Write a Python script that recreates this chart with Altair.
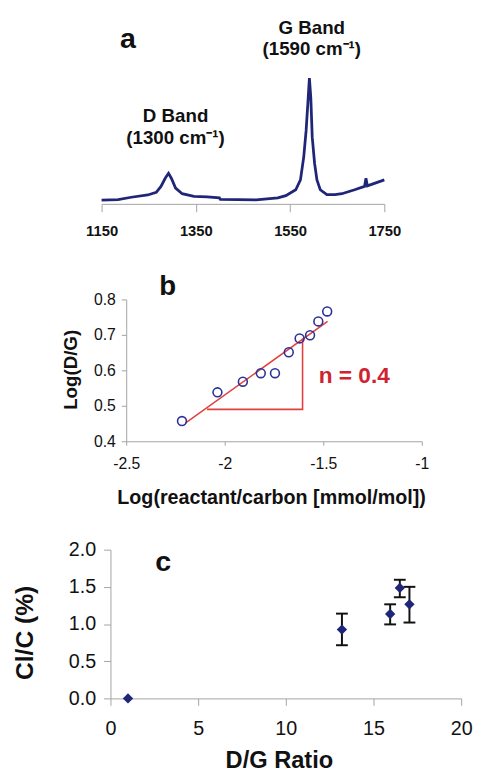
import altair as alt
import pandas as pd

# ---------------- data ----------------
# (a) Raman spectrum (arbitrary intensity units)
wavenumber = [1150, 1185, 1213, 1248, 1266, 1276, 1285, 1292, 1298, 1307, 1321, 1346,
              1374, 1400, 1402, 1440, 1478, 1524, 1541, 1562, 1572, 1579, 1584, 1588,
              1591, 1594, 1597, 1602, 1607, 1614, 1628, 1645, 1660, 1687, 1708, 1711,
              1714, 1726, 1750]
intensity = [1.7, 2.3, 4.7, 7.0, 9.7, 15.7, 24.0, 29.0, 24.0, 14.0, 8.3, 5.7,
             5.0, 4.0, 2.5, 2.3, 2.0, 4.0, 6.3, 12.3, 22.3, 45.7, 72.3, 102.3,
             125.7, 105.7, 65.7, 39.0, 22.3, 12.3, 7.3, 7.3, 8.3, 12.3, 15.7, 24.0,
             16.3, 18.3, 22.3]
a_ticks = [1150, 1350, 1550, 1750]
a_labels = ["G Band", "(1590 cm\u207b\u00b9)", "D Band", "(1300 cm\u207b\u00b9)"]
a_label_x = [1596, 1596, 1307, 1307]
a_label_y = [170.7, 149.0, 80.7, 59.0]

# (b) log-log plot
log_reactant = [-2.217, -2.037, -1.908, -1.817, -1.745, -1.675, -1.620, -1.567, -1.525, -1.480]
log_dg = [0.457, 0.538, 0.568, 0.592, 0.592, 0.651, 0.690, 0.699, 0.738, 0.766]
fit_x = [-2.2, -1.478]
fit_y = [0.451, 0.738]
tri_x = [-2.09, -1.605, -1.605]
tri_y = [0.49, 0.49, 0.69]
b_xticks = [-2.5, -2.0, -1.5, -1.0]
b_yticks = [0.4, 0.5, 0.6, 0.7, 0.8]

# (c) Cl/C vs D/G ratio
dg_ratio = [1.0, 13.2, 15.95, 16.5, 17.05]
cl_c = [0.0, 0.925, 1.135, 1.485, 1.265]
err_x = [13.2, 15.95, 16.5, 17.05]
err_lo = [0.715, 0.995, 1.36, 1.02]
err_hi = [1.14, 1.265, 1.595, 1.50]
c_xticks = [0, 5, 10, 15, 20]
c_yticks = [0.0, 0.5, 1.0, 1.5, 2.0]

# ---------------- style ----------------
W, H = 472, 771
FONT = "Liberation Sans"
NAVY = "#1f2577"
BLUE = "#2b3196"
RED_TXT = "#cf2330"
RED_LINE = "#e0423f"
GRAY = "#a3a3a3"

spec_df = pd.DataFrame({"wavenumber": wavenumber, "intensity": intensity})
a_ann = pd.DataFrame({"wavenumber": a_label_x, "intensity": a_label_y, "label": a_labels})
a_letter = pd.DataFrame({"wavenumber": [1206], "intensity": [156], "label": ["a"]})

b_df = pd.DataFrame({"lr": log_reactant, "ldg": log_dg})
fit_df = pd.DataFrame({"lr": fit_x, "ldg": fit_y})
tri_df = pd.DataFrame({"lr": tri_x, "ldg": tri_y, "i": list(range(len(tri_x)))})
b_letter = pd.DataFrame({"lr": [-2.29], "ldg": [0.813], "label": ["b"]})
b_slope = pd.DataFrame({"lr": [-1.523], "ldg": [0.563], "label": ["n = 0.4"]})

c_df = pd.DataFrame({"dg": dg_ratio, "clc": cl_c})
err_df = pd.DataFrame({"dg": err_x, "lo": err_lo, "hi": err_hi})
c_letter = pd.DataFrame({"dg": [3.0], "clc": [1.718], "label": ["c"]})


# scales: explicit pixel ranges put each panel where it sits in the figure
def xa():
    return alt.Scale(domain=[1150, 1750], range=[95, 382], nice=False, zero=False)


def ya():
    return alt.Scale(domain=[0, 126], range=[191, 65], nice=False, zero=False)


def xb():
    return alt.Scale(domain=[-2.5, -1.0], range=[120, 420], nice=False, zero=False)


def yb():
    return alt.Scale(domain=[0.4, 0.8], range=[434, 290], nice=False, zero=False)


def xc():
    return alt.Scale(domain=[0, 20], range=[104, 460], nice=False, zero=False)


def yc():
    return alt.Scale(domain=[0, 2], range=[695, 544], nice=False, zero=False)


ax_a = alt.Axis(values=a_ticks, format="d", orient="bottom", offset=193 - H, tickSize=8,
                labelPadding=12, labelFontSize=15, labelFontWeight="bold",
                labelFlush=False, labelOverlap=False, title=None)
ax_bx = alt.Axis(values=b_xticks, labelExpr="'' + datum.value", orient="bottom",
                 offset=434 - H, tickSize=4, labelPadding=11, labelFontSize=16,
                 labelFlush=False, labelOverlap=False,
                 title="Log(reactant/carbon [mmol/mol])", titleFontSize=20,
                 titleFontWeight="bold", titleX=267, titleY=63,
                 titleBaseline="alphabetic")
ax_by = alt.Axis(values=b_yticks, format=".1f", orient="left", offset=-120, tickSize=5,
                 labelPadding=6, labelFontSize=16, labelOverlap=False, title="Log(D/G)",
                 titleFontSize=19, titleFontWeight="bold", titleX=-56, titleY=361,
                 titleBaseline="middle")
ax_cx = alt.Axis(values=c_xticks, format="d", orient="bottom", offset=695 - H, tickSize=7,
                 labelPadding=14, labelFontSize=20, labelFlush=False, labelOverlap=False,
                 title="D/G Ratio", titleFontSize=24, titleFontWeight="bold",
                 titleX=275, titleY=70, titleBaseline="alphabetic")
ax_cy = alt.Axis(values=c_yticks, format=".1f", orient="left", offset=-104, tickSize=7,
                 labelPadding=8, labelFontSize=20, labelOverlap=False, title="Cl/C (%)",
                 titleFontSize=25, titleFontWeight="bold", titleX=-87, titleY=628,
                 titleBaseline="middle")

# ---------------- panel a ----------------
a_line = alt.Chart(spec_df).mark_line(color=NAVY, strokeWidth=2.8).encode(
    x=alt.X("wavenumber:Q", scale=xa(), axis=ax_a),
    y=alt.Y("intensity:Q", scale=ya(), axis=None),
)
a_text = alt.Chart(a_ann).mark_text(font=FONT, fontSize=19, fontWeight="bold",
                                    color="#111", baseline="alphabetic").encode(
    x=alt.X("wavenumber:Q", scale=xa(), axis=None),
    y=alt.Y("intensity:Q", scale=ya(), axis=None),
    text="label:N",
)
a_let = alt.Chart(a_letter).mark_text(font=FONT, fontSize=29, fontWeight="bold",
                                      color="#111", baseline="alphabetic").encode(
    x=alt.X("wavenumber:Q", scale=xa(), axis=None),
    y=alt.Y("intensity:Q", scale=ya(), axis=None),
    text="label:N",
)

# ---------------- panel b ----------------
b_fit = alt.Chart(fit_df).mark_line(color=RED_LINE, strokeWidth=1.6).encode(
    x=alt.X("lr:Q", scale=xb(), axis=ax_bx),
    y=alt.Y("ldg:Q", scale=yb(), axis=ax_by),
)
b_tri = alt.Chart(tri_df).mark_line(color=RED_LINE, strokeWidth=1.6).encode(
    x=alt.X("lr:Q", scale=xb(), axis=None),
    y=alt.Y("ldg:Q", scale=yb(), axis=None),
    order=alt.Order("i:Q"),
)
b_pts = alt.Chart(b_df).mark_point(shape="circle", filled=False, size=81, color=BLUE,
                                   strokeWidth=1.6, opacity=1).encode(
    x=alt.X("lr:Q", scale=xb(), axis=None),
    y=alt.Y("ldg:Q", scale=yb(), axis=None),
)
b_let = alt.Chart(b_letter).mark_text(font=FONT, fontSize=28, fontWeight="bold",
                                      color="#111", baseline="alphabetic").encode(
    x=alt.X("lr:Q", scale=xb(), axis=None),
    y=alt.Y("ldg:Q", scale=yb(), axis=None),
    text="label:N",
)
b_n = alt.Chart(b_slope).mark_text(font=FONT, fontSize=23, fontWeight="bold",
                                   color=RED_TXT, align="left",
                                   baseline="alphabetic").encode(
    x=alt.X("lr:Q", scale=xb(), axis=None),
    y=alt.Y("ldg:Q", scale=yb(), axis=None),
    text="label:N",
)

# ---------------- panel c ----------------
c_rule = alt.Chart(err_df).mark_rule(color="#111", strokeWidth=2).encode(
    x=alt.X("dg:Q", scale=xc(), axis=ax_cx),
    y=alt.Y("lo:Q", scale=yc(), axis=ax_cy),
    y2="hi:Q",
)
c_cap_lo = alt.Chart(err_df).mark_tick(orient="horizontal", size=12, thickness=2,
                                       color="#111", opacity=1).encode(
    x=alt.X("dg:Q", scale=xc(), axis=None),
    y=alt.Y("lo:Q", scale=yc(), axis=None),
)
c_cap_hi = alt.Chart(err_df).mark_tick(orient="horizontal", size=12, thickness=2,
                                       color="#111", opacity=1).encode(
    x=alt.X("dg:Q", scale=xc(), axis=None),
    y=alt.Y("hi:Q", scale=yc(), axis=None),
)
c_pts = alt.Chart(c_df).mark_point(shape="diamond", filled=True, size=110, color=NAVY,
                                   opacity=1).encode(
    x=alt.X("dg:Q", scale=xc(), axis=None),
    y=alt.Y("clc:Q", scale=yc(), axis=None),
)
c_let = alt.Chart(c_letter).mark_text(font=FONT, fontSize=29, fontWeight="bold",
                                      color="#111", baseline="alphabetic").encode(
    x=alt.X("dg:Q", scale=xc(), axis=None),
    y=alt.Y("clc:Q", scale=yc(), axis=None),
    text="label:N",
)

chart = (
    alt.layer(a_line, a_text, a_let,
              b_fit, b_tri, b_pts, b_let, b_n,
              c_rule, c_cap_lo, c_cap_hi, c_pts, c_let)
    .resolve_scale(x="independent", y="independent")
    .resolve_axis(x="independent", y="independent")
    .properties(width=W, height=H, padding=0,
                autosize=alt.AutoSizeParams(type="none"))
    .configure_view(stroke=None)
    .configure_axis(grid=False, domainColor=GRAY, tickColor=GRAY, domainWidth=1,
                    tickWidth=1, labelColor="#111", titleColor="#111",
                    labelFont=FONT, titleFont=FONT)
)

chart.save("out.html", embed_options={"renderer": "svg", "actions": False})
